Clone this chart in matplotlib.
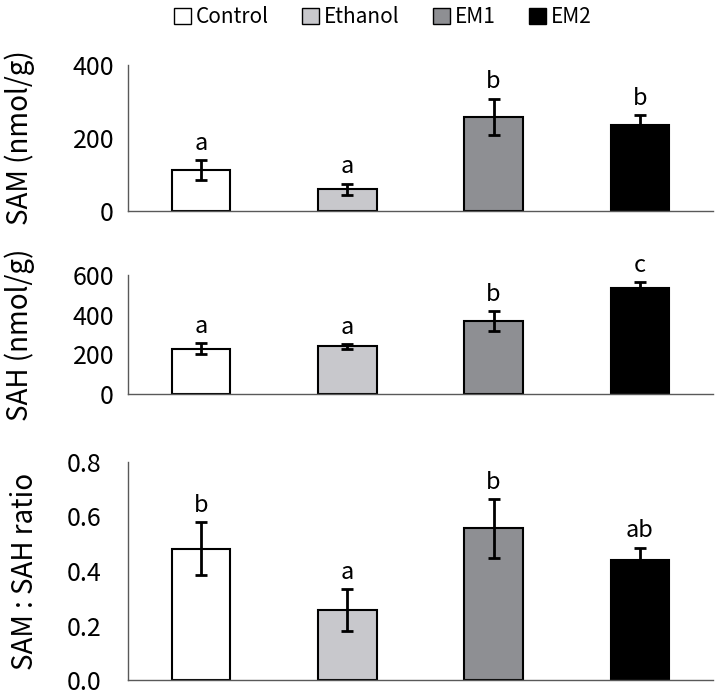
import matplotlib.pyplot as plt
from matplotlib.patches import Patch

plt.rcParams['font.family'] = ['Noto Sans CJK KR', 'DejaVu Sans']

groups = ["Control", "Ethanol", "EM1", "EM2"]
colors = ["#ffffff", "#c8c8cc", "#8e8f93", "#000000"]

sam = [112, 59, 258, 235]
sam_err = [28, 16, 50, 27]
sam_letters = ["a", "a", "b", "b"]

sah = [229, 240, 370, 534]
sah_err = [29, 11, 50, 31]
sah_letters = ["a", "a", "b", "c"]

ratio = [0.482, 0.258, 0.557, 0.440]
ratio_err = [0.098, 0.077, 0.108, 0.046]
ratio_letters = ["b", "a", "b", "ab"]

fig = plt.figure(figsize=(7.19, 6.96), dpi=100)

W = 719.0
H = 696.0
left = 128 / W
width = 585 / W


def panel(top, bottom, vals, errs, letters, ymax, yticks, ticklabels,
          ylabel, labelx, labelsize, pad):
    ax = fig.add_axes([left, 1 - bottom / H, width, (bottom - top) / H])
    x = range(len(groups))
    ax.bar(x, vals, width=0.4, color=colors, edgecolor="black", linewidth=1.5,
           zorder=2)
    ax.errorbar(x, vals, yerr=errs, fmt="none", ecolor="black", elinewidth=2,
                capsize=4, capthick=2, zorder=3)
    for i in x:
        ax.annotate(letters[i], (i, vals[i] + errs[i]), xytext=(0, 12),
                    textcoords="offset points", ha="center", va="center",
                    fontsize=17)
    ax.set_xlim(-0.5, 3.5)
    ax.set_ylim(0, ymax)
    ax.set_yticks(yticks)
    ax.set_yticklabels(ticklabels)
    ax.set_xticks([])
    ax.tick_params(axis="y", length=0, pad=pad, labelsize=18)
    for s in ["top", "right"]:
        ax.spines[s].set_visible(False)
    for s in ["left", "bottom"]:
        ax.spines[s].set_color("#595959")
        ax.spines[s].set_linewidth(1.0)
    # y label placed in figure pixels so it does not run off the edge
    fig.text(labelx / W, 1 - (top + bottom) / 2 / H, ylabel, rotation=90,
             ha="center", va="center", fontsize=labelsize)
    return ax


panel(65, 211, sam, sam_err, sam_letters, 400, [0, 200, 400],
      ["0", "200", "400"], "SAM (nmol/g)", 20, 20, 10)
panel(275, 394, sah, sah_err, sah_letters, 600, [0, 200, 400, 600],
      ["0", "200", "400", "600"], "SAH (nmol/g)", 20, 20, 10)
panel(462, 680, ratio, ratio_err, ratio_letters, 0.8,
      [0, 0.2, 0.4, 0.6, 0.8], ["0.0", "0.2", "0.4", "0.6", "0.8"],
      "SAM : SAH ratio", 25, 20, 19)

handles = [Patch(facecolor=c, edgecolor="black", linewidth=1.0) for c in colors]
fig.legend(handles, groups, loc="center", bbox_to_anchor=(383 / W, 1 - 17 / H),
           ncol=4, frameon=False, fontsize=15, handlelength=0.8,
           handleheight=0.8, handletextpad=0.25, columnspacing=1.6)

fig.savefig("out.png", dpi=100)
